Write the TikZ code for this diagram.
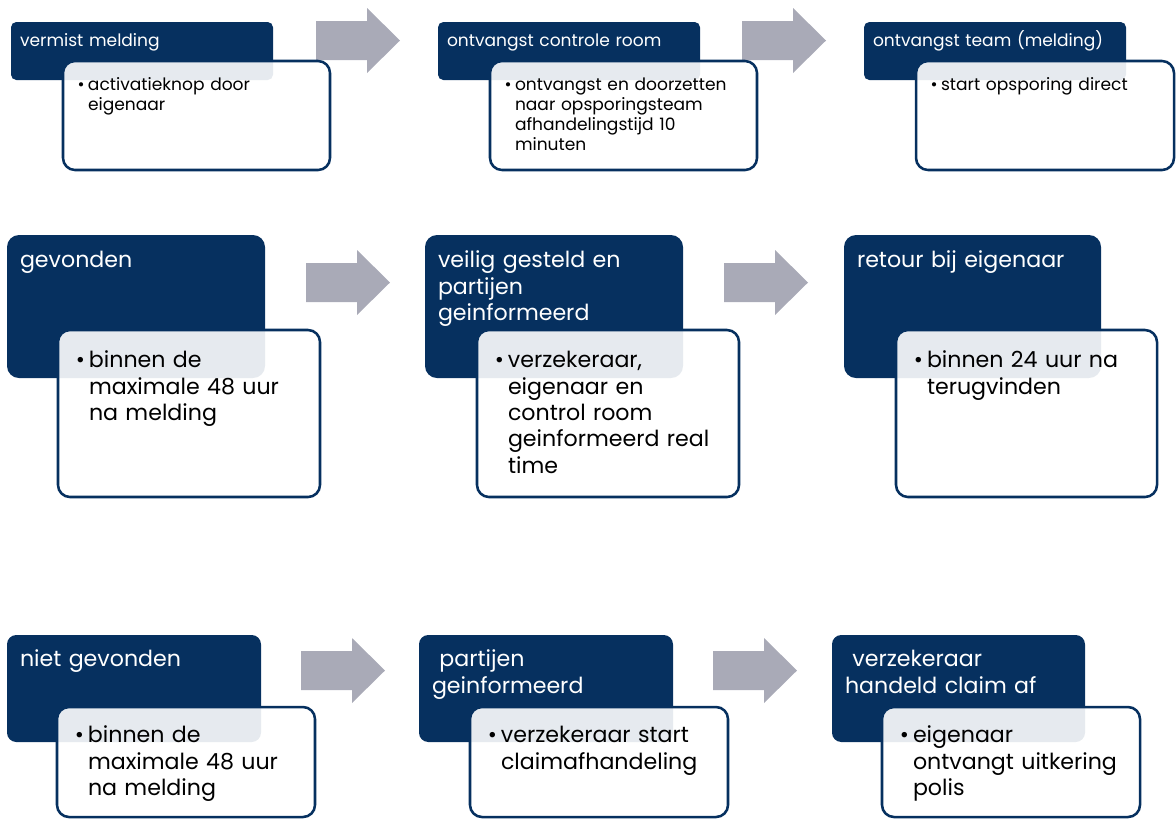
\documentclass[tikz,border=0pt]{standalone}
\usepackage{fontspec}
\setmainfont{Poppins}
\usetikzlibrary{calc,fit,positioning}
\definecolor{navy}{HTML}{06305F}
\definecolor{pijl}{HTML}{A9AAB7}

\begin{document}
\begin{tikzpicture}[x=0.75pt,y=-0.75pt,line join=round,
  kop/.style={fill=navy,inner sep=0pt,rounded corners=#1},
  blok/.style={draw=navy,line width=1.9pt,fill=white,fill opacity=0.9,inner sep=0pt,rounded corners=9pt},
  kleinkop/.style={text=white,anchor=base west,inner sep=0pt,text width=200pt,align=left,font=\fontsize{12.8}{15}\selectfont},
  kleintekst/.style={text=black,anchor=base west,inner sep=0pt,text width=200pt,align=left,font=\fontsize{12.8}{15}\selectfont},
  grootkop/.style={kleinkop,font=\fontsize{16.6}{19.8}\selectfont},
  groottekst/.style={kleintekst,font=\fontsize{16.6}{19.8}\selectfont}]
\useasboundingbox (0,0) rectangle (1176,819);
\clip (0,0) rectangle (1176,819);
\foreach \x/\y in {316/8,742/8,306/250,724/250,301/638,713/638}{\fill[pijl] (\x,\y+13) -- (\x+51,\y+13) -- (\x+51,\y) -- (\x+84,\y+32.5) -- (\x+51,\y+65) -- (\x+51,\y+52) -- (\x,\y+52) -- cycle;}
% rij 1
\node[kop=4pt,fit={(11,22) (273,80)}] (k1) {};
\node[kleinkop] (kt1) at ($(k1.north west)+(9,25)$) {vermist melding};
\node[blok,fit={(63,61) (330,170)}] (w1) {};
\node[kleintekst] (wt1) at ($(w1.north west)+(26,31)$) {\noindent\llap{•\hspace{2.5pt}}activatieknop door\\eigenaar};
\node[kop=4pt,fit={(438,22) (700,80)}] (k2) {};
\node[kleinkop] (kt2) at ($(k2.north west)+(9,25)$) {ontvangst controle room};
\node[blok,fit={(490,61) (757,170)}] (w2) {};
\node[kleintekst] (wt2) at ($(w2.north west)+(26,31)$) {\noindent\llap{•\hspace{2.5pt}}ontvangst en doorzetten\\naar opsporingsteam\\afhandelingstijd 10\\minuten};
\node[kop=4pt,fit={(864,22) (1126,80)}] (k3) {};
\node[kleinkop] (kt3) at ($(k3.north west)+(9,25)$) {ontvangst team (melding)};
\node[blok,fit={(916,61) (1174,170)}] (w3) {};
\node[kleintekst] (wt3) at ($(w3.north west)+(26,31)$) {\noindent\llap{•\hspace{2.5pt}}start opsporing direct};
% rij 2
\node[kop=9pt,fit={(7,235) (265,378)}] (k4) {};
\node[grootkop] (kt4) at ($(k4.north west)+(13,33)$) {gevonden};
\node[blok,fit={(58,330) (320,497)}] (w4) {};
\node[groottekst] (wt4) at ($(w4.north west)+(32,39)$) {\noindent\llap{•\hspace{3pt}}binnen de\\maximale 48 uur\\na melding};
\node[kop=9pt,fit={(425,235) (683,378)}] (k5) {};
\node[grootkop] (kt5) at ($(k5.north west)+(13,33)$) {veilig gesteld en\\partijen\\geinformeerd};
\node[blok,fit={(477,330) (739,497)}] (w5) {};
\node[groottekst] (wt5) at ($(w5.north west)+(32,39)$) {\noindent\llap{•\hspace{3pt}}verzekeraar,\\eigenaar en\\control room\\geinformeerd real\\time};
\node[kop=9pt,fit={(844,235) (1101,378)}] (k6) {};
\node[grootkop] (kt6) at ($(k6.north west)+(13,33)$) {retour bij eigenaar};
\node[blok,fit={(896,330) (1157,497)}] (w6) {};
\node[groottekst] (wt6) at ($(w6.north west)+(32,39)$) {\noindent\llap{•\hspace{3pt}}binnen 24 uur na\\terugvinden};
% rij 3
\node[kop=7pt,fit={(7,635) (261,742)}] (k7) {};
\node[grootkop] (kt7) at ($(k7.north west)+(13,32)$) {niet gevonden};
\node[blok,fit={(57,707) (315,817)}] (w7) {};
\node[groottekst] (wt7) at ($(w7.north west)+(32,37)$) {\noindent\llap{•\hspace{3pt}}binnen de\\maximale 48 uur\\na melding};
\node[kop=7pt,fit={(419,635) (673,742)}] (k8) {};
\node[grootkop] (kt8) at ($(k8.north west)+(13,32)$) {\ partijen\\geinformeerd};
\node[blok,fit={(470,707) (728,817)}] (w8) {};
\node[groottekst] (wt8) at ($(w8.north west)+(32,37)$) {\noindent\llap{•\hspace{3pt}}verzekeraar start\\claimafhandeling};
\node[kop=7pt,fit={(832,635) (1085,742)}] (k9) {};
\node[grootkop] (kt9) at ($(k9.north west)+(13,32)$) {\ verzekeraar\\handeld claim af};
\node[blok,fit={(882,707) (1140,817)}] (w9) {};
\node[groottekst] (wt9) at ($(w9.north west)+(32,37)$) {\noindent\llap{•\hspace{3pt}}eigenaar\\ontvangt uitkering\\polis};
\end{tikzpicture}
\end{document}
